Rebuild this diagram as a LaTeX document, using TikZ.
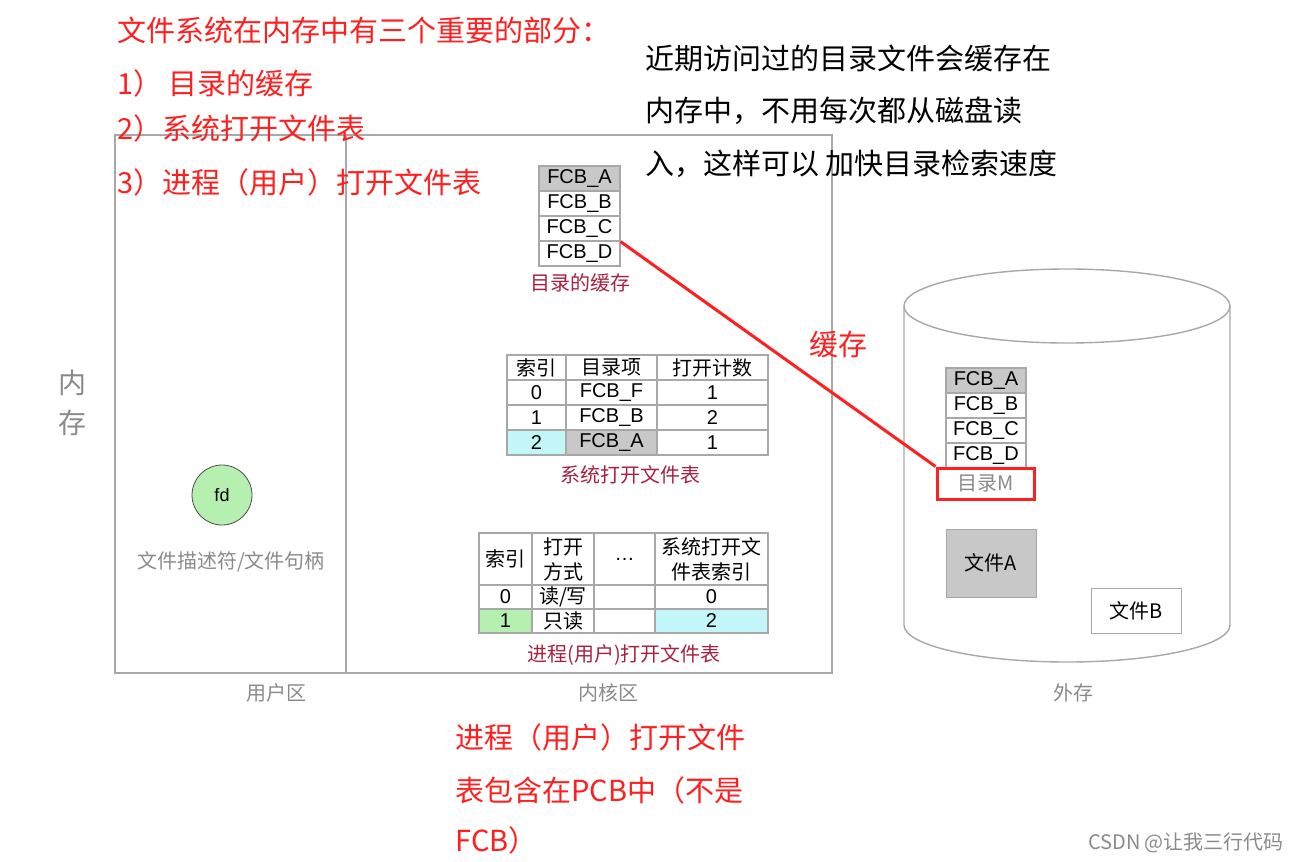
\documentclass[tikz,border=0pt]{standalone}
\usepackage{fontspec}
\setmainfont{Noto Sans CJK SC}
\newfontfamily\lat{Liberation Sans}
\usetikzlibrary{positioning}

\definecolor{memred}{HTML}{FF1F1F}
\definecolor{lblred}{HTML}{A82040}
\definecolor{lgray}{HTML}{A8A8A8}
\definecolor{tgray}{HTML}{8A8A8A}
\definecolor{cellgray}{HTML}{C8C8C8}
\definecolor{cellcyan}{HTML}{C2F6F8}
\definecolor{cellgreen}{HTML}{B6F0B0}

\begin{document}
\begin{tikzpicture}[
  x=0.5pt,y=-0.5pt,
  big/.style={font=\fontsize{14.5pt}{17pt}\selectfont,inner sep=0pt},
  note/.style={big,anchor=west,memred},
  frame/.style={draw=lgray,line width=0.7pt},
  cell/.style={draw=lgray,line width=0.6pt,inner sep=0pt,minimum height=12.5pt,
    font=\lat\fontsize{10pt}{11pt}\selectfont},
  hcell/.style={cell,font=\fontsize{10pt}{12.5pt}\selectfont,align=center},
  tlabel/.style={lblred,font=\fontsize{10pt}{12pt}\selectfont},
  area/.style={tgray,font=\fontsize{10pt}{11pt}\selectfont}]
  \path[use as bounding box] (0,0) rectangle (1296,862);

  % memory: user area and kernel area
  \draw[frame] (115,135) rectangle (832,673);
  \draw[frame] (346,135) -- (346,673);
  \node[big,tgray,align=center,font=\fontsize{14pt}{20pt}\selectfont] (mem) at (72,403) {内\\存};
  \node[area] (user) at (276,693) {用户区};
  \node[area] (kernel) at (608,693) {内核区};
  \node[area] (disk) at (1073,693) {外存};

  % red notes
  \node[note] (n0) at (117,30) {文件系统在内存中有三个重要的部分：};
  \node[note] (n1) at (117,83) {1） 目录的缓存};
  \node[note] (n2) at (117,128) {2）系统打开文件表};
  \node[note] (n3) at (117,182) {3）进程（用户）打开文件表};
  \node[big,anchor=west] (r1) at (645,58) {近期访问过的目录文件会缓存在};
  \node[big,anchor=west] (r2) at (645,111) {内存中，不用每次都从磁盘读};
  \node[big,anchor=west] (r3) at (645,164) {入，这样可以 加快目录检索速度};
  \node[note] (b1) at (455,737) {进程（用户）打开文件};
  \node[note] (b2) at (455,790) {表包含在PCB中（不是};
  \node[note] (b3) at (455,840) {FCB）};

  % user area: file descriptor
  \node[circle,draw=black!70,fill=cellgreen,minimum size=30pt,inner sep=0pt,
    font=\lat\fontsize{9pt}{11pt}\selectfont] (fd) at (222,495) {fd};
  \node[tgray,font=\fontsize{10pt}{12pt}\selectfont] (fdl) at (231,562) {文件描述符/文件句柄};

  % directory cache
  \node[cell,minimum width=40.5pt,fill=cellgray] (cA) at (579.5,178.5) {FCB\_A};
  \node[cell,minimum width=40.5pt] (cB) at (579.5,203.5) {FCB\_B};
  \node[cell,minimum width=40.5pt] (cC) at (579.5,228.5) {FCB\_C};
  \node[cell,minimum width=40.5pt] (cD) at (579.5,253.5) {FCB\_D};
  \node[tlabel] (cl) at (580,283) {目录的缓存};

  % system open file table
  \node[hcell,minimum width=29.5pt] (s00) at (536.5,367.5) {索引};
  \node[hcell,minimum width=45.5pt] (s01) at (611.5,367.5) {目录项};
  \node[hcell,minimum width=55.5pt] (s02) at (712.5,367.5) {打开计数};
  \node[cell,minimum width=29.5pt] (s10) at (536.5,392.5) {0};
  \node[cell,minimum width=45.5pt] (s11) at (611.5,392.5) {FCB\_F};
  \node[cell,minimum width=55.5pt] (s12) at (712.5,392.5) {1};
  \node[cell,minimum width=29.5pt] (s20) at (536.5,417.5) {1};
  \node[cell,minimum width=45.5pt] (s21) at (611.5,417.5) {FCB\_B};
  \node[cell,minimum width=55.5pt] (s22) at (712.5,417.5) {2};
  \node[cell,minimum width=29.5pt,fill=cellcyan] (s30) at (536.5,442.5) {2};
  \node[cell,minimum width=45.5pt,fill=cellgray] (s31) at (611.5,442.5) {FCB\_A};
  \node[cell,minimum width=55.5pt] (s32) at (712.5,442.5) {1};
  \node[tlabel] (sl) at (630,475) {系统打开文件表};

  % process (user) open file table
  \node[hcell,minimum width=26.5pt,minimum height=26pt] (p00) at (505.5,559) {索引};
  \node[hcell,minimum width=31pt,minimum height=26pt] (p01) at (563,559) {打开\\方式};
  \node[hcell,minimum width=30.5pt,minimum height=26pt] (p02) at (624.5,559) {\lat\dots};
  \node[hcell,minimum width=56.5pt,minimum height=26pt] (p03) at (711.5,559) {系统打开文\\件表索引};
  \node[cell,minimum width=26.5pt,minimum height=12pt] (p10) at (505.5,597) {0};
  \node[hcell,minimum width=31pt,minimum height=12pt] (p11) at (563,597) {读/写};
  \node[cell,minimum width=30.5pt,minimum height=12pt] (p12) at (624.5,597) {};
  \node[cell,minimum width=56.5pt,minimum height=12pt] (p13) at (711.5,597) {0};
  \node[cell,minimum width=26.5pt,minimum height=12pt,fill=cellgreen] (p20) at (505.5,621) {1};
  \node[hcell,minimum width=31pt,minimum height=12pt] (p21) at (563,621) {只读};
  \node[cell,minimum width=30.5pt,minimum height=12pt] (p22) at (624.5,621) {};
  \node[cell,minimum width=56.5pt,minimum height=12pt,fill=cellcyan] (p23) at (711.5,621) {2};
  \node[tlabel] (pl) at (624,655) {进程(用户)打开文件表};

  % external storage
  \draw[frame,fill=white] (904,306) -- (904,625)
    arc[start angle=180,end angle=0,x radius=163,y radius=37] -- (1230,306);
  \draw[frame] (1067,306) ellipse[x radius=163,y radius=37];
  \node[cell,minimum width=40pt,fill=cellgray] (dA) at (986,380.5) {FCB\_A};
  \node[cell,minimum width=40pt] (dB) at (986,405.5) {FCB\_B};
  \node[cell,minimum width=40pt] (dC) at (986,430.5) {FCB\_C};
  \node[cell,minimum width=40pt] (dD) at (986,455.5) {FCB\_D};
  \node[draw=memred,line width=1.5pt,minimum width=48.5pt,minimum height=15.5pt,inner sep=0pt,
    text=tgray,font=\fontsize{10pt}{12pt}\selectfont] (dirM) at (985.5,483.5) {目录M};
  \node[draw=lgray,fill=cellgray,minimum width=45pt,minimum height=34pt,inner sep=0pt,
    font=\fontsize{10pt}{12pt}\selectfont] (fA) at (991,563) {文件A};
  \node[draw=lgray,fill=white,minimum width=45pt,minimum height=22.5pt,inner sep=0pt,
    font=\fontsize{10pt}{12pt}\selectfont] (fB) at (1136,610.5) {文件B};

  % caching link
  \draw[memred,line width=1.5pt] (cC.south east) -- (dirM.north west);
  \node[big,memred] (cache) at (838,345) {缓存};

  \node[tgray,font=\fontsize{10pt}{12pt}\selectfont] (wm) at (1186,843) {CSDN @让我三行代码};
\end{tikzpicture}
\end{document}
